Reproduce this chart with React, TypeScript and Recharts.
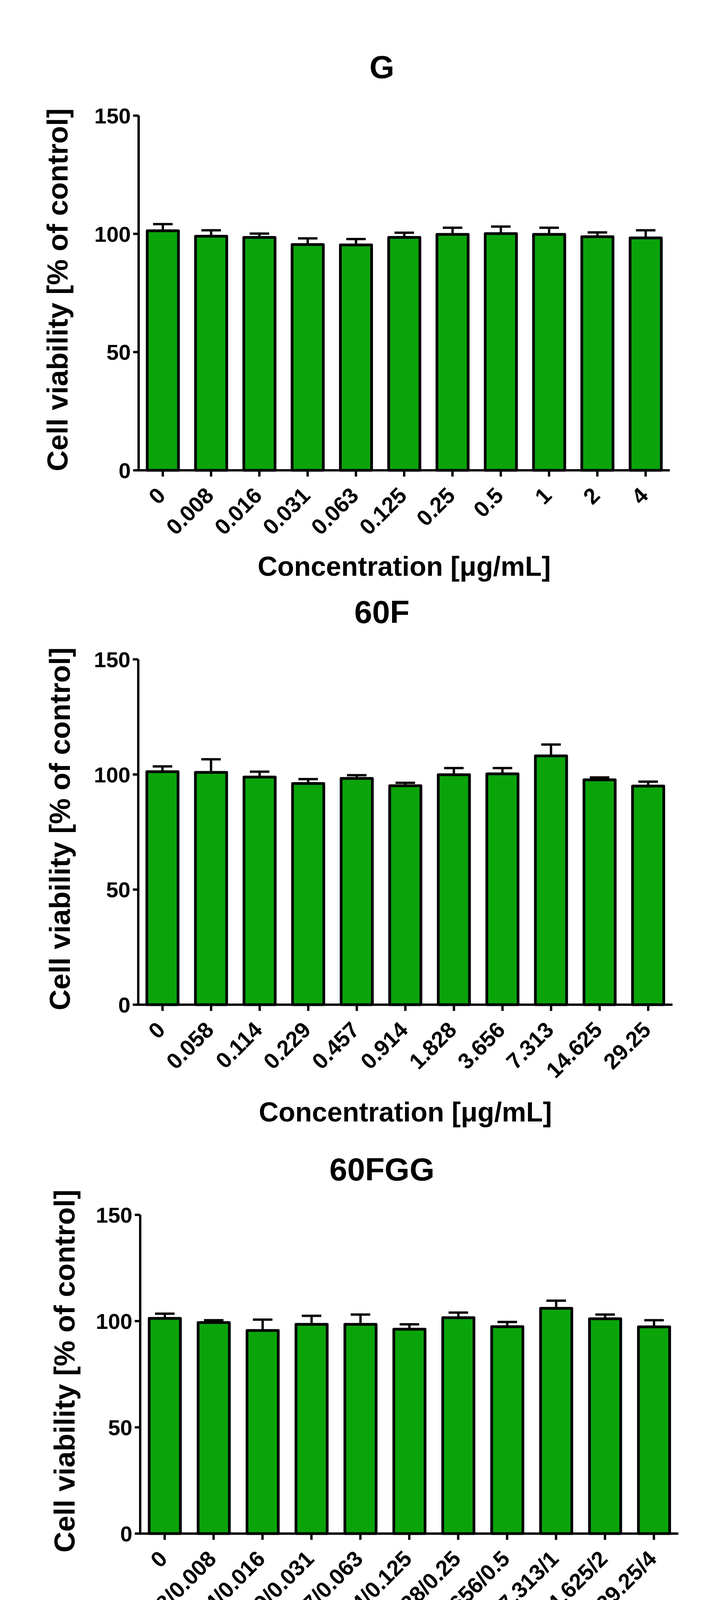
import { BarChart, Bar, XAxis, YAxis, ErrorBar } from "recharts"

const concentrationsG = ["0", "0.008", "0.016", "0.031", "0.063", "0.125", "0.25", "0.5", "1", "2", "4"]
const viabilityG = [101.3, 99.0, 98.5, 95.5, 95.3, 98.5, 99.8, 100.1, 99.8, 98.8, 98.3]
const semG = [2.8, 2.5, 1.6, 2.6, 2.5, 2.0, 2.8, 3.0, 2.8, 1.8, 3.2]

const concentrations60F = ["0", "0.058", "0.114", "0.229", "0.457", "0.914", "1.828", "3.656", "7.313", "14.625", "29.25"]
const viability60F = [101.2, 100.9, 98.9, 96.1, 98.3, 95.1, 99.9, 100.3, 108.1, 97.7, 95.0]
const sem60F = [2.3, 5.7, 2.3, 1.9, 1.4, 1.3, 2.9, 2.5, 4.9, 1.0, 1.9]

const concentrations60FGG = [
  "0", "0.058/0.008", "0.114/0.016", "0.229/0.031", "0.457/0.063", "0.914/0.125",
  "1.828/0.25", "3.656/0.5", "7.313/1", "14.625/2", "29.25/4",
]
const viability60FGG = [101.3, 99.3, 95.6, 98.5, 98.5, 96.2, 101.6, 97.4, 106.0, 101.1, 97.3]
const sem60FGG = [2.2, 1.1, 5.1, 4.0, 4.6, 2.3, 2.4, 2.2, 3.6, 2.0, 3.1]

const yTicks = [0, 50, 100, 150]

const FONT = "'Liberation Sans', Arial, sans-serif"
const GREEN = "#0aa40a"
const PAGE_W = 1859

interface PanelProps {
  title: string
  labels: string[]
  values: number[]
  sems: number[]
  xTitle: string
  plotTop: number
  plotBottom: number
  plotLeft: number
  plotRight: number
  titleY: number
  xTitleY: number
  yLabelX: number
}

// rotated category label, its baseline end sits just right of / below the tick
function XTick({ x, y, payload }: any) {
  return (
    <g transform={`translate(${x + 10},${y + 52})`}>
      <text
        x={0}
        y={0}
        textAnchor="end"
        transform="rotate(-45)"
        fontSize={57}
        fontWeight={700}
        fontFamily={FONT}
        fill="#000"
      >
        {payload.value}
      </text>
    </g>
  )
}

function Panel(p: PanelProps) {
  const data = p.labels.map((label, i) => ({
    label,
    value: p.values[i],
    err: [0, p.sems[i]],
  }))
  const topPad = 40
  const below = 330
  const plotH = p.plotBottom - p.plotTop
  const chartTop = p.plotTop - topPad

  return (
    <>
      <div
        style={{
          position: "absolute",
          left: 0,
          width: PAGE_W,
          top: p.titleY - 50,
          height: 100,
          lineHeight: "100px",
          textAlign: "center",
          paddingLeft: 97,
          boxSizing: "border-box",
          fontFamily: FONT,
          fontWeight: 700,
          fontSize: 82,
        }}
      >
        {p.title}
      </div>
      <div
        style={{
          position: "absolute",
          left: p.yLabelX,
          top: (p.plotTop + p.plotBottom) / 2 - 8,
          transform: "translate(-50%, -50%) rotate(-90deg)",
          whiteSpace: "nowrap",
          fontFamily: FONT,
          fontWeight: 700,
          fontSize: 74,
          lineHeight: 1,
        }}
      >
        Cell viability [% of control]
      </div>
      <div
        style={{
          position: "absolute",
          left: p.plotLeft,
          width: p.plotRight - p.plotLeft,
          top: p.xTitleY - 45,
          height: 90,
          lineHeight: "90px",
          textAlign: "center",
          whiteSpace: "nowrap",
          fontFamily: FONT,
          fontWeight: 700,
          fontSize: 70,
        }}
      >
        {p.xTitle}
      </div>
      <div style={{ position: "absolute", left: 0, top: chartTop }}>
        <BarChart
          width={PAGE_W}
          height={plotH + topPad + below}
          data={data}
          margin={{ top: topPad, right: PAGE_W - p.plotRight, bottom: 0, left: 0 }}
          barSize={80}
        >
          <XAxis
            dataKey="label"
            type="category"
            interval={0}
            height={below}
            tickSize={16}
            tickMargin={0}
            axisLine={{ stroke: "#000", strokeWidth: 6 }}
            tickLine={{ stroke: "#000", strokeWidth: 6 }}
            tick={<XTick />}
          />
          <YAxis
            type="number"
            domain={[0, 150]}
            ticks={yTicks}
            width={p.plotLeft}
            tickSize={14}
            tickMargin={6}
            axisLine={{ stroke: "#000", strokeWidth: 6 }}
            tickLine={{ stroke: "#000", strokeWidth: 6 }}
            tick={{ fontSize: 56, fontWeight: 700, fill: "#000", fontFamily: FONT }}
          />
          <Bar
            dataKey="value"
            fill={GREEN}
            stroke="#000"
            strokeWidth={7}
            strokeLinejoin="round"
            isAnimationActive={false}
          >
            <ErrorBar
              dataKey="err"
              direction="y"
              width={25}
              stroke="#000"
              strokeWidth={6}
              isAnimationActive={false}
            />
          </Bar>
        </BarChart>
      </div>
    </>
  )
}

export default function App() {
  return (
    <div
      style={{
        position: "absolute",
        left: 0,
        top: 0,
        width: PAGE_W,
        height: 4373,
        background: "#fff",
        overflow: "hidden",
      }}
    >
      <Panel
        title="G"
        labels={concentrationsG}
        values={viabilityG}
        sems={semG}
        xTitle="Concentration [μg/mL]"
        plotTop={296}
        plotBottom={1204}
        plotLeft={355}
        plotRight={1715}
        titleY={172}
        xTitleY={1450}
        yLabelX={148}
      />
      <Panel
        title="60F"
        labels={concentrations60F}
        values={viability60F}
        sems={sem60F}
        xTitle="Concentration [μg/mL]"
        plotTop={1688}
        plotBottom={2572}
        plotLeft={354}
        plotRight={1722}
        titleY={1567}
        xTitleY={2847}
        yLabelX={154}
      />
      <Panel
        title="60FGG"
        labels={concentrations60FGG}
        values={viability60FGG}
        sems={sem60FGG}
        xTitle="Concentration [μg/ml]"
        plotTop={3110}
        plotBottom={3926}
        plotLeft={359}
        plotRight={1737}
        titleY={2994}
        xTitleY={4259}
        yLabelX={166}
      />
    </div>
  )
}
